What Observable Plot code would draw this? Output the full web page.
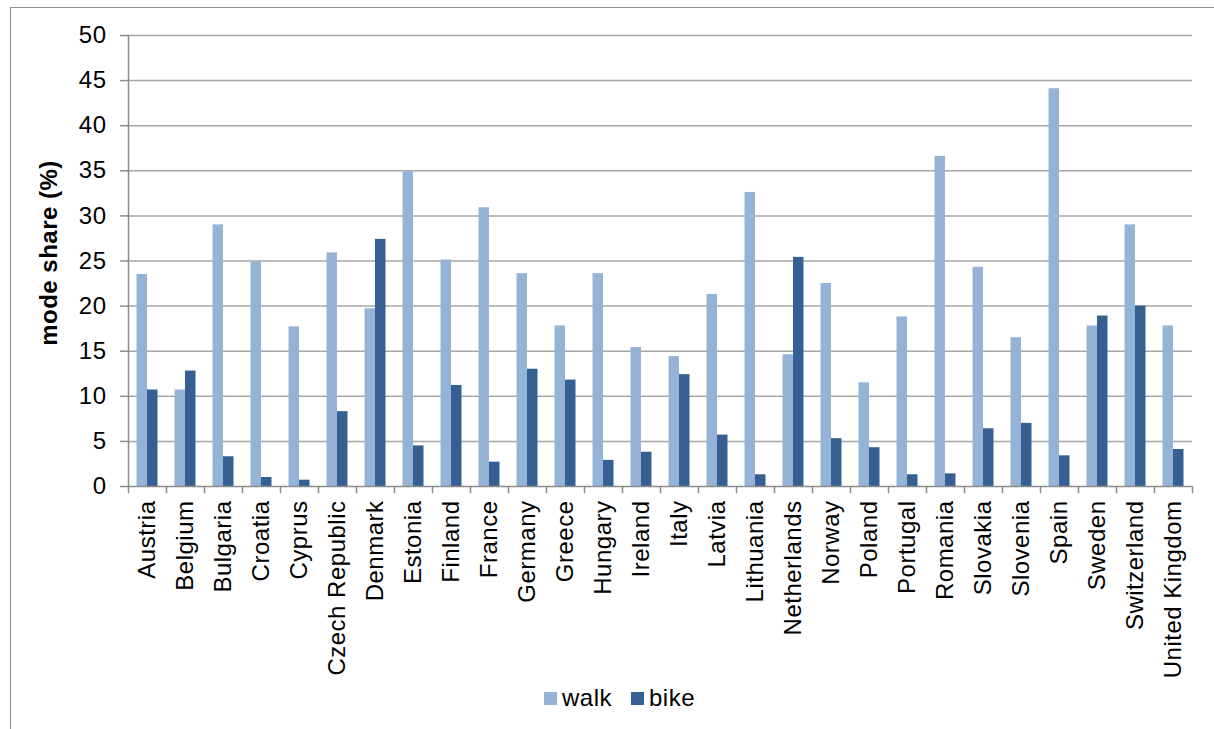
<!DOCTYPE html>
<html>
<head>
<meta charset="utf-8">
<script src="https://cdn.jsdelivr.net/npm/d3@7"></script>
<script src="https://cdn.jsdelivr.net/npm/@observablehq/plot@0.6"></script>
<style>
  html, body { margin: 0; padding: 0; background: #fff; }
  body { width: 1214px; height: 729px; position: relative; overflow: hidden; font-family: "Liberation Sans", Arial, sans-serif; }
  #frame { position: absolute; left: 10px; top: 7px; width: 1300px; height: 800px; border-top: 1.5px solid #8c8c8c; border-left: 1.5px solid #8c8c8c; }
  #chart { position: absolute; left: 0; top: 0; }
  #chart svg text { font-size: 24px; letter-spacing: 0.5px; font-family: "Liberation Sans", Arial, sans-serif; }
  #legend { position: absolute; left: 544px; top: 684px; display: flex; align-items: center; font-size: 24px; color: #000; letter-spacing: 0.5px; }
  #legend .sw { width: 13px; height: 13px; display: inline-block; margin-right: 5px; }
  #legend .item { display: flex; align-items: center; margin-right: 19px; }
</style>
</head>
<body>
<div id="frame"></div>
<div id="chart"></div>
<div id="legend"></div>
<script>
const countries = ["Austria","Belgium","Bulgaria","Croatia","Cyprus","Czech Republic","Denmark","Estonia","Finland","France","Germany","Greece","Hungary","Ireland","Italy","Latvia","Lithuania","Netherlands","Norway","Poland","Portugal","Romania","Slovakia","Slovenia","Spain","Sweden","Switzerland","United Kingdom"];
const walk = [23.5,10.7,29.0,24.9,17.7,25.9,19.7,34.9,25.1,30.9,23.6,17.8,23.6,15.4,14.4,21.3,32.6,14.6,22.5,11.5,18.8,36.6,24.3,16.5,44.1,17.8,29.0,17.8];
const bike = [10.7,12.8,3.3,1.0,0.7,8.3,27.4,4.5,11.2,2.7,13.0,11.8,2.9,3.8,12.4,5.7,1.3,25.4,5.3,4.3,1.3,1.4,6.4,7.0,3.4,18.9,20.0,4.1];
const series = ["walk", "bike"];
const colors = ["#95b3d7", "#376092"];
const yTicks = [0,5,10,15,20,25,30,35,40,45,50];
const yLabel = "mode share (%)";

const walkRows = countries.map((c, i) => ({country: c, mode: "walk", value: walk[i]}));
const bikeRows = countries.map((c, i) => ({country: c, mode: "bike", value: bike[i]}));

const gridColor = "#a6a6a6";
const axisColor = "#8c8c8c";

const chart = Plot.plot({
  width: 1214,
  height: 729,
  marginLeft: 128,
  marginRight: 22,
  marginTop: 35,
  marginBottom: 243,
  style: {fontFamily: "'Liberation Sans', Arial, sans-serif", fontSize: "24px", color: "#000", background: "transparent"},
  x: {domain: countries, padding: 0, axis: null},
  y: {domain: [0, 50], axis: null},
  color: {domain: series, range: colors},
  marks: [
    Plot.ruleY(yTicks.filter(d => d > 0), {stroke: gridColor, strokeWidth: 1.5}),
    Plot.barY(walkRows, {x: "country", y: "value", fill: "mode", insetLeft: 8.5, insetRight: 19}),
    Plot.barY(bikeRows, {x: "country", y: "value", fill: "mode", insetLeft: 19, insetRight: 8.5}),
    Plot.ruleY([0], {stroke: axisColor, strokeWidth: 1.5}),
    Plot.ruleX([countries[0]], {x: d => d, dx: -19, y1: 0, y2: 50, stroke: axisColor, strokeWidth: 1.5}),
    Plot.ruleX(countries, {x: d => d, dx: -19, y1: 0, y2: -0.8, stroke: axisColor, strokeWidth: 1.5}),
    Plot.ruleX([countries[countries.length - 1]], {x: d => d, dx: 19, y1: 0, y2: -0.8, stroke: axisColor, strokeWidth: 1.5}),
    Plot.axisY({ticks: yTicks, tickSize: 8, tickPadding: 14, fontSize: 24, stroke: axisColor, strokeWidth: 1.5, fill: "#000", label: null}),
    Plot.axisX({tickRotate: -90, tickSize: 0, tickPadding: 14, fontSize: 24, fill: "#000", label: null}),
    Plot.text([yLabel], {text: d => d, frameAnchor: "left", textAnchor: "middle", dx: -79, dy: -8, rotate: -90, fontSize: 24, fontWeight: "bold", fill: "#000"})
  ]
});
document.getElementById("chart").appendChild(chart);

const legend = document.getElementById("legend");
series.forEach((s, i) => {
  const item = document.createElement("span");
  item.className = "item";
  const sw = document.createElement("span");
  sw.className = "sw";
  sw.style.background = colors[i];
  const t = document.createElement("span");
  t.textContent = s;
  item.appendChild(sw);
  item.appendChild(t);
  legend.appendChild(item);
});
</script>
</body>
</html>
